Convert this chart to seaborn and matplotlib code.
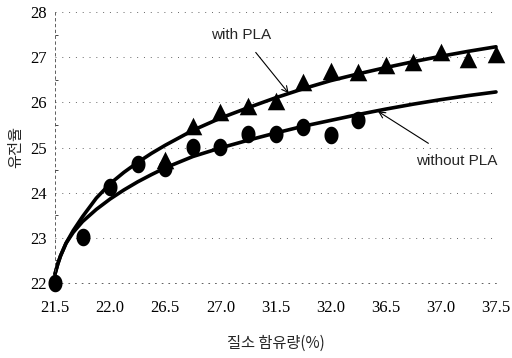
import numpy as np
import pandas as pd
import matplotlib
matplotlib.use("Agg")
import matplotlib.pyplot as plt
from matplotlib.path import Path as MPath
import seaborn as sns

# category labels on the x axis (evenly spaced in the original figure)
x_labels = ["21.5", "22.0", "26.5", "27.0", "31.5", "32.0", "36.5", "37.0", "37.5"]

# measured points, x given as position along the category axis (half steps)
without_x = [0.0, 0.5, 1.0, 1.5, 2.0, 2.5, 3.0, 3.5, 4.0, 4.5, 5.0, 5.5]
without_y = [22.0, 23.02, 24.13, 24.64, 24.55, 25.02, 25.02, 25.29, 25.29, 25.46, 25.27, 25.6]

with_x = [2.0, 2.5, 3.0, 3.5, 4.0, 4.5, 5.0, 5.5, 6.0, 6.5, 7.0, 7.5, 8.0]
with_y = [24.73, 25.47, 25.78, 25.91, 26.02, 26.44, 26.69, 26.67, 26.82, 26.89, 27.11, 26.96, 27.07]

# fitted trend lines
curve_x = [0.0, 0.05, 0.1, 0.2, 0.33, 0.5, 0.75, 1.0, 1.25, 1.5, 1.75, 2.0, 2.5, 3.0, 3.5,
           4.0, 4.5, 5.0, 5.5, 6.0, 6.5, 7.0, 7.5, 8.0]
with_fit = [22.2, 22.42, 22.6, 22.88, 23.16, 23.47, 23.88, 24.2, 24.45, 24.67, 24.87, 25.05,
            25.38, 25.65, 25.88, 26.1, 26.3, 26.48, 26.63, 26.77, 26.9, 27.02, 27.13, 27.23]
without_fit = [22.2, 22.42, 22.6, 22.88, 23.12, 23.36, 23.63, 23.86, 24.06, 24.24, 24.4, 24.55,
               24.8, 24.99, 25.16, 25.32, 25.47, 25.6, 25.73, 25.85, 25.96, 26.06, 26.15, 26.23]

sns.set_theme(style="white")
plt.rcParams["font.family"] = ["Liberation Serif", "DejaVu Sans"]

fig = plt.figure(figsize=(5.12, 3.58), dpi=100)
ax = fig.add_axes([55 / 512, 75 / 358, 441 / 512, 271 / 358])

fits = pd.DataFrame({
    "x": curve_x * 2,
    "y": with_fit + without_fit,
    "series": ["with PLA"] * len(curve_x) + ["without PLA"] * len(curve_x),
})
sns.lineplot(data=fits, x="x", y="y", hue="series", palette=["black", "black"],
             linewidth=2.6, legend=False, ax=ax, sort=True)
for ln in ax.lines:
    ln.set_clip_on(False)
    ln.set_solid_joinstyle("round")

# slightly tall ellipse marker like the scanned original
t = np.linspace(0, 2 * np.pi, 40)
ellipse = MPath(np.column_stack([0.8 * np.cos(t), np.sin(t)]))

pts_wo = pd.DataFrame({"x": without_x, "y": without_y})
pts_w = pd.DataFrame({"x": with_x, "y": with_y})
sns.scatterplot(data=pts_wo, x="x", y="y", marker=ellipse, s=160, color="black",
                edgecolor="black", linewidth=0, ax=ax, clip_on=False, zorder=4)
sns.scatterplot(data=pts_w, x="x", y="y", marker="^", s=160, color="black",
                edgecolor="black", linewidth=0, ax=ax, clip_on=False, zorder=4)

ax.set_xlim(0, 8)
ax.set_ylim(22, 28)
ax.set_xticks(range(len(x_labels)))
ax.set_xticklabels(x_labels)
ax.set_yticks([22, 23, 24, 25, 26, 27, 28])
ax.set_yticks(np.arange(22.5, 28, 1.0), minor=True)
ax.tick_params(axis="both", labelsize=12, colors="black", length=0)
ax.tick_params(axis="x", pad=12)
ax.tick_params(axis="y", pad=6)
ax.tick_params(axis="y", which="minor", length=2, width=0.6, direction="in", left=True)

ax.grid(axis="y", linestyle=(0, (1, 6)), color="#666666", linewidth=0.7)
for side in ["right", "top"]:
    ax.spines[side].set_visible(False)
ax.spines["left"].set_linestyle((0, (3, 4)))
ax.spines["left"].set_linewidth(0.6)
ax.spines["left"].set_color("#444444")
ax.spines["bottom"].set_linestyle((0, (1, 7)))
ax.spines["bottom"].set_linewidth(0.6)
ax.spines["bottom"].set_color("#444444")

ax.set_xlabel("질소 함유량(%)", family=["Noto Sans CJK KR", "DejaVu Sans"], fontsize=11, labelpad=14)
ax.set_ylabel("유전율", family=["Noto Sans CJK KR", "DejaVu Sans"], fontsize=11, labelpad=4)

ax.annotate("with PLA", xy=(4.24, 26.2), xytext=(3.38, 27.5),
            fontsize=11, family=["Liberation Sans", "DejaVu Sans"], ha="center", va="center",
            arrowprops=dict(arrowstyle="->", color="black", lw=0.8, shrinkA=7, shrinkB=0))
ax.annotate("without PLA", xy=(5.86, 25.8), xytext=(7.28, 24.7),
            fontsize=11, family=["Liberation Sans", "DejaVu Sans"], ha="center", va="center",
            arrowprops=dict(arrowstyle="->", color="black", lw=0.8, shrinkA=10, shrinkB=0))

fig.savefig("out.png", dpi=100)
